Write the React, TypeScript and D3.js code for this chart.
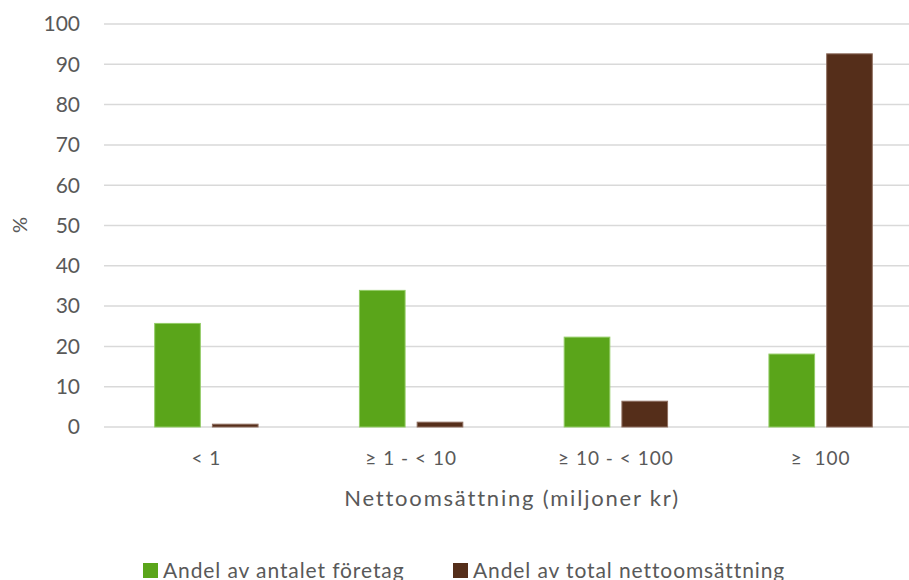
import React from "react";
import * as d3 from "d3";

const categories = ["< 1", "≥ 1 - < 10", "≥ 10 - < 100", "≥  100"];
const seriesNames = ["Andel av antalet företag", "Andel av total nettoomsättning"];
const antalForetag = [25.7, 33.9, 22.3, 18.1];
const totalOmsattning = [0.7, 1.2, 6.4, 92.6];
const yTicks = [0, 10, 20, 30, 40, 50, 60, 70, 80, 90, 100];

const W = 909;
const H = 580;
const FONT = "Lato, 'Open Sans', sans-serif";
const TEXT = "#595959";
const fills = ["#5AA51A", "#552E1A"];
const strokes = ["#93CC66", "#8F6F60"];

export default function App() {
  const x = d3.scaleBand<string>().domain(categories).range([104, 923]);
  const inner = d3
    .scaleBand<string>()
    .domain(["0", "1"])
    .range([0, x.bandwidth()])
    .paddingInner(0.209)
    .paddingOuter(0.878);
  const y = d3.scaleLinear().domain([0, 100]).range([427, 24]);
  const series = [antalForetag, totalOmsattning];

  return (
    <svg width={W} height={H} style={{ position: "absolute", left: 0, top: 0, display: "block", background: "#fff" }}>
      {yTicks.map((t) => (
        <g key={t}>
          <line x1={104} x2={W} y1={y(t)} y2={y(t)} stroke="#D9D9D9" strokeWidth={1.5} />
          <text x={80} y={y(t)} dy="0.35em" textAnchor="end" fontFamily={FONT} fontSize={21} fill={TEXT}>
            {t}
          </text>
        </g>
      ))}
      {series.map((vals, si) =>
        categories.map((c, ci) => {
          const x0 = (x(c) as number) + (inner(String(si)) as number);
          const top = y(vals[ci]);
          return (
            <rect
              key={`${si}-${ci}`}
              x={x0}
              y={top}
              width={inner.bandwidth()}
              height={y(0) - top}
              fill={fills[si]}
              stroke={strokes[si]}
              strokeWidth={1}
            />
          );
        })
      )}
      {categories.map((c) => (
        <text
          key={c}
          x={(x(c) as number) + x.bandwidth() / 2}
          y={465}
          textAnchor="middle"
          fontFamily={FONT}
          fontSize={19}
          letterSpacing={1}
          fill={TEXT}
          style={{ whiteSpace: "pre" }}
        >
          {c}
        </text>
      ))}
      <text x={512} y={506} textAnchor="middle" fontFamily={FONT} fontSize={22} letterSpacing={1.8} fill={TEXT}>
        Nettoomsättning (miljoner kr)
      </text>
      <text
        transform="translate(27,225) rotate(-90)"
        textAnchor="middle"
        fontFamily={FONT}
        fontSize={20}
        fill={TEXT}
      >
        %
      </text>
      {seriesNames.map((name, i) => {
        const lx = [143, 453][i];
        return (
          <g key={name}>
            <rect x={lx} y={563} width={15} height={15} fill={fills[i]} />
            <text x={lx + 20} y={578} fontFamily={FONT} fontSize={21} letterSpacing={0.9} fill={TEXT}>
              {name}
            </text>
          </g>
        );
      })}
    </svg>
  );
}
